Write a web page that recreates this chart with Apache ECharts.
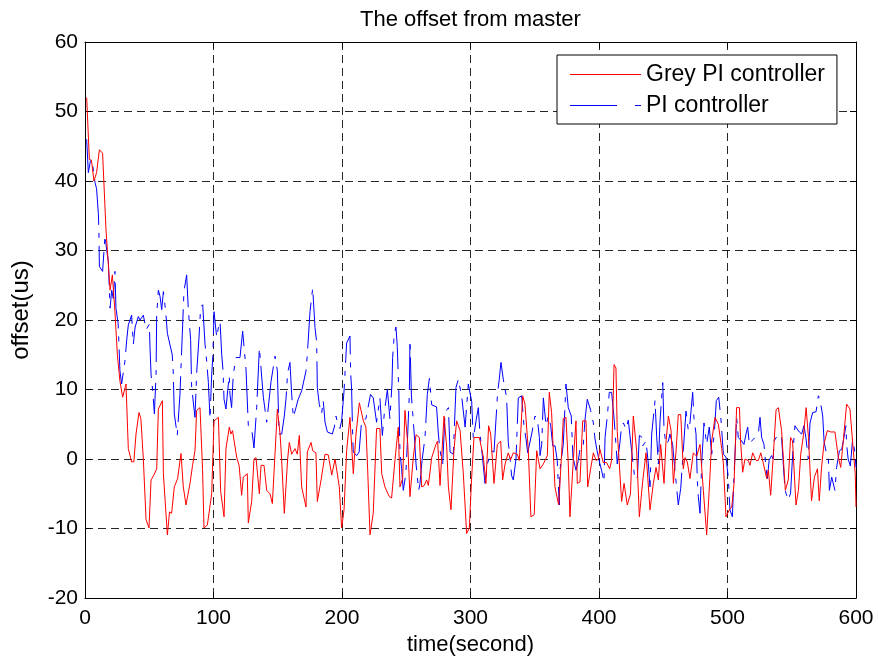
<!DOCTYPE html>
<html>
<head>
<meta charset="utf-8">
<script src="https://cdn.jsdelivr.net/npm/echarts@6/dist/echarts.min.js"></script>
<style>html,body{margin:0;padding:0;background:#fff;overflow:hidden}#c{width:878px;height:661px}</style>
</head>
<body>
<div id="c"></div>
<script>
const xTicks = [0, 100, 200, 300, 400, 500, 600];
const yTicks = [-20, -10, 0, 10, 20, 30, 40, 50, 60];

const greyTime = [1.3,3.4,5,7,9,11.2,13.7,16.3,19.5,21.3,23.3,25.2,27.2,29.3,31.9,33.7,36.3,38,39.7,42,43.5,45.4,47.5,49.8,51.4,53.6,55.8,57.1,60.2,61,64.1,65.8,67.4,69.5,72.1,74.7,76.5,78.6,81.7,83.7,85.6,86.9,89.5,91.5,92.6,95.2,98.6,100.4,103.8,105.6,108.2,109.7,112.3,113.5,114.8,118,120,121.9,123.2,126.3,127.1,129.7,131.5,133.1,135.7,137,139.3,141.4,144,145.8,147.9,149.7,151.8,153,155.1,157.7,159,160.8,163.4,165.2,166.8,168.6,172,173,175.9,177.2,179.7,180.8,183.7,186.8,189.3,192,194.6,195.8,197.9,199.7,201.6,203.6,206.2,208.8,210.9,213.5,216.6,218.6,220,221.8,224.3,226.9,229.5,230.9,233.4,236.8,238.6,241.2,243.8,245.1,247.2,249,251.2,252.9,255.5,257.6,260.2,262,264,265.9,267.2,269.8,273.1,274.4,276.3,277.6,279.4,281.5,282.8,284.8,287.1,289.2,291.9,294.4,297,299.1,300.8,302.7,306.9,310,312,314.1,315.7,318.3,320.9,323.5,325,326.9,329.4,331.2,333.3,336.4,338,340.6,342.4,345,347,349.6,351.5,354.1,356.7,359.8,361.3,363.1,365.7,368.6,370.9,372.2,374.3,376.1,377.4,380,382.1,383.1,385.2,387.3,389.9,391.2,393.5,395.6,397.7,399.5,400.7,403.3,405.9,408.3,409.8,411.7,413.2,414.2,415.8,417.6,419.5,422,424.5,426.7,429.3,431.4,434,436.6,437.6,439.7,442.3,444.4,446.2,448,450.6,452.1,454,456.1,457.9,460,461.7,463.6,465.6,466.9,468.7,470.8,473.4,476,478.6,481.2,483.8,485.9,487.7,490.3,492.9,495.5,496.8,498.8,501.4,503.3,505.1,507.1,509.3,510.2,511.8,513.6,516.2,517.5,519.6,522.2,524,525.9,528,530.5,531.8,533.6,535.7,537.8,539.6,542.1,543.9,545,547.3,549.1,550.6,553.3,555.2,557,559.1,561.2,563,565.4,567.6,570,571.4,573.2,575,577.7,580.3,583.6,586.2,588.1,590.1,592.7,595.3,597.9,599.4,600];
const greyOffset = [52,43.1,43,40,41.2,44.5,44,33.1,24.3,26.5,21.2,15,11.2,8.9,10.8,1.5,-0.4,-0.4,3.6,6.7,5.8,0,-8.7,-9.9,-3,-2.3,-1.4,7.2,8.4,-2.1,-10.9,-7.6,-7.8,-4,-2.8,0.8,-4,-6.6,-3.5,-0.9,1.2,7,7.4,-1.5,-9.9,-9.5,-5,5.5,6,-4.7,-8.3,1.5,4.6,3.6,4.1,0.3,-1,-5.2,-2.6,-2.1,-9.2,-6.1,0,0.2,-5,-0.9,-0.9,-4.5,-5,-6.4,0.9,7.2,3.6,0,-7.8,0,2.4,0.7,1.5,0.7,3.4,-4,-6.9,1,2.4,1.2,0.9,-6.1,-3,0.7,0.6,-2.3,0,-0.2,-4,-9.9,-7.3,1.2,6,-2.1,3.6,8.1,5.5,4.6,-1.6,-10.9,-7.8,4.4,4.4,-2.1,-4,-5.4,-5.6,-0.2,4.6,-4,-2.8,7,2.1,-5.4,0.3,3.5,3.1,-4,-3.8,-3,-3.8,0.2,2.1,2.6,-3.8,-4,6.2,1.7,-4,-7.3,1.2,5.5,4.1,-2.1,-10.7,-9.9,-3,3.1,3.1,0.3,-3.5,4.8,3.6,-3.5,2.1,2.6,-3,-0.7,0.9,-0.1,0.9,0.7,-0.2,9.1,7.9,1.2,-8.3,-8,1.2,-1.4,-0.7,0.5,9.6,6.7,-4,-6.6,0.7,5.8,6,-0.7,-8.3,-0.2,5.5,-3.5,-3.3,5.5,5.5,-4,-1.4,0.9,-0.2,0,1.4,-0.5,-0.5,-1.4,-0.2,13.6,13.1,4,-0.7,-6.1,-3.5,-6.6,-5,6.2,1.2,-8.3,-3.2,0.9,0.7,-7.3,-3.5,-1.2,-3,2.1,-3.5,2.4,6.2,4.1,-3.5,1.2,6.4,6.4,-1.4,0.2,-0.4,-2.8,0.9,0.4,2.1,-4.5,-10.9,-4,2.6,6,5,1.5,-0.7,-8.3,-7.3,-6.9,-3.5,7.4,7.4,2.6,-1.9,0,-0.2,-0.9,0.9,-0.2,-0.2,0.9,-0.7,-2.8,-1.6,-5.2,0.7,7.1,7.4,4.1,-1.2,-4.5,-3,3.1,2.6,-6.6,-4.5,0.7,3.4,7.4,3.1,-6,-2.6,-1.4,-6,-1.2,2.1,4.1,3.9,3.9,0.3,-1.2,2.6,7.9,7.2,1.2,-2.1,-6.9];

const piTime = [1.3,2.6,4.4,5.8,7.8,9,10.4,10.8,11.2,13.7,15.6,16.9,18.2,19.5,20.8,22,23.3,24.1,25.8,27.2,28.5,31.1,32.4,33.7,36.3,37.6,39,41.5,42.8,45.4,47.5,50.1,50.6,51.4,52.7,54,55.3,55.8,57.1,58.4,59.7,61,62.8,64.1,65.6,67.9,68.6,69.5,71.8,73.9,75.7,77,79.1,80.4,82.2,83,85.6,86.9,88.7,90,91.6,93.4,94.7,96,97.3,98.6,99.5,100.4,102.5,103.8,105.1,106.4,107.4,108.2,109.7,111,112.3,112.8,114.1,115.4,117.5,120.6,122.7,125.3,127.1,129.7,131.5,133.6,135.7,137,138.8,141.4,144.8,146.1,147.9,149.7,151,153.1,155.1,156.4,157.7,159.5,160.8,162.1,164.2,165.9,168.6,172,173,175.1,177.2,179,180.3,180.8,182.3,184.1,185.4,186.8,188.6,192.5,194,195.3,197.1,198.4,199.7,201.6,202.9,203.6,206.2,206.7,207.5,208.3,208.8,211.4,213.3,215.3,218.6,222.2,224.3,226.9,229.5,231.4,233,235.3,237.3,238.9,239.4,240.7,242,243,244.2,245.1,246.4,247.7,249.7,250.8,252.4,252.9,254,256.3,257.6,259.7,260.7,262.3,264.6,266.4,268,269.8,271,273.6,275,276.3,278.4,280.2,282.8,284.1,286.6,287.8,288.7,290.6,293.2,295.8,298.3,299.6,300.9,302.2,304.3,306.1,307.4,309.2,311.3,313.1,314.6,316.4,318.3,320.3,321.1,322.4,323.7,325.5,328.1,329.4,330.7,332,333.3,335.4,335.9,337.2,339.8,341.6,343.2,344.5,347.6,350.2,352,353.6,354.1,355.4,356.7,358.8,360.6,362.4,364,365.8,367.5,369.1,369.6,372.2,374.3,376.1,378.4,379.7,382.1,383.9,385.7,387.8,389,390.9,393.5,395.6,396.9,398.5,400.3,402,403.9,404.7,406.5,408,409.8,411.7,413.2,414.2,416.3,417.6,419,421,422.8,424.1,425.9,428,429.9,431.4,433.2,434,436.6,438.4,439.7,441,443.6,444.9,446.2,447.5,449.6,450.6,452.1,454,455.2,457.3,459.1,461.7,463.6,465.6,467.7,469.5,470.8,472.9,473.9,475.5,476.5,477.3,478.6,479.9,481.7,483.8,485.8,487.7,489.7,491.3,493.2,495,496.8,498.8,500.6,501.9,503.8,505.1,507.1,508.4,511,512.8,514.4,515.7,517,518.8,524,525.3,526.6,528.4,529.9,531,532.4,534.3,535.6,536.2,539.6,542.1,543.4,544.8,547.3,549.1,550.6,552.5,554.3,555.9,557.7,559.5,561,562.9,564.2,566.3,568.9,570.7,572,574.1,575.2,577.2,578.5,579.3,581.1,583.6,584.9,587.1,588.9,590.6,592.2,592.7,593.9,595.6,597.4,599.2,600];
const piOffset = [46,41.2,43.1,42.5,39.8,38.9,35.3,33,27.7,27,32.2,30,28.4,21.7,24.3,23.1,27,21.7,19.5,12.7,10.8,14.1,17,19.3,20.7,16.5,19,20.5,20,20.7,18.6,19.4,16,12.2,9.8,6.5,12.2,20.8,24.3,23.4,21.5,24.1,21.2,18.1,17.9,15,12.9,6.5,3.4,9.3,17.9,24.1,26.5,21.5,17.2,10.3,6,12.4,17.4,21.9,22.2,16.5,14.1,11,5.8,12.2,14.8,21.2,17.5,18.9,19.8,15,12.8,8.6,7.2,9.8,12,9.3,7.4,12.2,14.6,14.6,18.4,12.9,4.8,4.4,1.6,7.4,16,15.8,8.9,5.3,11.2,11,14.8,12.7,3.6,3.6,6.2,8.6,12.4,13.9,9.4,6,7.4,8.6,9.8,12.7,15,21.2,24.6,18.9,16.8,10.3,7.9,6.5,8.4,5.3,3.9,3.6,4.6,6.2,4.8,4.4,5.5,9.8,14.3,16.7,17.7,12.5,10,3.4,1,0.5,1,5.6,5.8,9.3,8.8,5.3,8.8,3.4,6.7,10,5.8,10.8,14.6,18,19,16.2,9.8,1,-1.4,-4.5,-2.1,2.1,9.3,17.1,9.2,3.4,-0.7,-4.5,-3.5,-0.2,3.1,9.3,11.6,7.8,8,7.5,3.6,1.2,-0.7,6.7,7.4,1,0.7,0.5,10.3,11.5,8.9,4.6,10.8,11,8.3,2.9,5.5,7.4,3.6,0.5,-3.5,-0.7,-0.5,1.2,1,7.1,9.6,11.5,13.9,11.5,8.8,2.4,0.3,-2.4,-3,0,2.4,8.8,9.1,4.8,2.9,0.9,3.6,6.2,5.8,3.1,0.5,2.1,8.8,4.8,6.2,4.8,1.9,1.9,-0.2,-6.6,-1.6,2.1,10.8,7.4,6.2,0.3,-1.6,-0.2,2.1,2.1,5.5,8.6,7,5.2,2.9,1.2,-0.4,-1.6,-3.3,3.1,6.2,9.6,9.6,5.9,2.1,-0.7,2.4,4.8,5.2,4.3,5.6,3.4,0.3,-3,-2.6,3.4,3.2,1.9,2.6,-0.7,-4,3.6,8.4,3.2,-0.7,5.5,11,4.3,2.1,2.6,3.6,2.1,-1.6,-6.6,-4.2,1.2,6.9,4.1,5.2,9.6,5.9,3.6,-3,-5.4,-7.8,-0.7,5.2,2.1,4.6,0.7,3.6,8.4,8.9,5.5,0.7,0.3,-2.6,-7.3,-8.3,-2.3,6,3.1,2.6,2.1,3.6,4.6,2.1,2.6,3.6,6,3.1,2.1,-1.2,-2.8,-0.2,0.5,0,2.6,3.6,3.1,-0.7,-4.5,-5.9,-4.9,0.3,4.8,4.3,3.9,3.6,4.8,3.1,0,5.2,6.7,6.8,9.1,8.6,6.2,2.4,0.7,0,-4.5,-2.6,-4.5,-1.2,1.2,1.4,3.1,4.8,2.1,0,-1,2.9,0.9,-1.2];

const greyData = greyTime.map((t, i) => [t, greyOffset[i]]);
const piData = piTime.map((t, i) => [t, piOffset[i]]);

const FONT = '"Liberation Sans", Arial, sans-serif';
const chart = echarts.init(document.getElementById('c'), null, {renderer: 'canvas'});
const gridDash = {type: [8, 5], color: '#000', width: 1, opacity: 0.85};
const frameAxis = {
  axisLine: {show: true, onZero: false, lineStyle: {color: '#000', width: 1}},
  axisTick: {show: true, inside: true, length: 6, lineStyle: {color: '#000'}}
};
chart.setOption({
  animation: false,
  backgroundColor: '#fff',
  title: {
    text: 'The offset from master', left: 355, top: 4,
    textStyle: {fontFamily: FONT, fontSize: 22, fontWeight: 'normal', color: '#000'}
  },
  grid: {left: 85, width: 771, top: 42, height: 560, containLabel: false},
  legend: {
    orient: 'vertical', left: 557, top: 55,
    backgroundColor: '#fff', borderColor: '#000', borderWidth: 1,
    padding: [8, 12, 7, 13], itemGap: 8, itemWidth: 71, itemHeight: 1,
    textStyle: {fontFamily: FONT, fontSize: 23, color: '#000'},
    data: [
      {name: 'Grey PI controller', icon: 'path://M0,0H71V1H0Z'},
      {name: 'PI controller', icon: 'path://M0,0H47V1H0Z M65,0H71V1H65Z'}
    ]
  },
  xAxis: [Object.assign({
    type: 'value', min: xTicks[0], max: xTicks[xTicks.length - 1], interval: 100,
    position: 'bottom',
    name: 'time(second)', nameLocation: 'middle', nameGap: 35,
    nameTextStyle: {fontFamily: FONT, fontSize: 22, color: '#000'},
    axisLabel: {fontFamily: FONT, fontSize: 21, color: '#000', margin: 10},
    splitLine: {show: true, lineStyle: gridDash}
  }, frameAxis), Object.assign({
    type: 'value', min: xTicks[0], max: xTicks[xTicks.length - 1], interval: 100,
    position: 'top',
    axisLabel: {show: false}, splitLine: {show: false}
  }, frameAxis)],
  yAxis: [Object.assign({
    type: 'value', min: yTicks[0], max: yTicks[yTicks.length - 1], interval: 10,
    position: 'left',
    name: 'offset(us)', nameLocation: 'middle', nameGap: 52, nameRotate: 90,
    nameTextStyle: {fontFamily: FONT, fontSize: 24, color: '#000', padding: [0, 0, 0, 20]},
    axisLabel: {fontFamily: FONT, fontSize: 21, color: '#000', margin: 7},
    splitLine: {show: true, lineStyle: gridDash}
  }, frameAxis), Object.assign({
    type: 'value', min: yTicks[0], max: yTicks[yTicks.length - 1], interval: 10,
    position: 'right',
    axisLabel: {show: false}, splitLine: {show: false}
  }, frameAxis)],
  series: [{
    name: 'Grey PI controller', type: 'line', data: greyData,
    xAxisIndex: 0, yAxisIndex: 0,
    symbol: 'none', showSymbol: false,
    lineStyle: {color: '#ff0000', width: 1},
    itemStyle: {color: '#ff0000'},
    z: 3
  }, {
    name: 'PI controller', type: 'line', data: piData,
    xAxisIndex: 0, yAxisIndex: 0,
    symbol: 'none', showSymbol: false,
    lineStyle: {color: '#0000ff', width: 1, type: [46, 8, 5, 8]},
    itemStyle: {color: '#0000ff'},
    z: 2
  }]
});
</script>
</body>
</html>
